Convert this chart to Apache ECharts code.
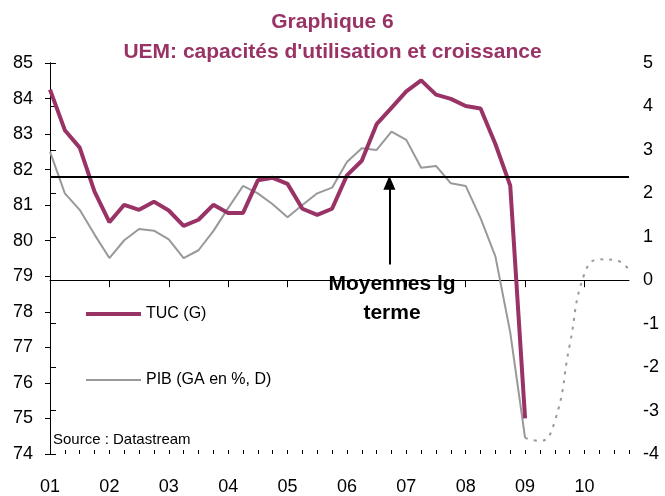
<!DOCTYPE html>
<html>
<head>
<meta charset="utf-8">
<script src="https://cdn.jsdelivr.net/npm/echarts@6/dist/echarts.min.js"></script>
<style>
  html, body { margin: 0; padding: 0; background: #fff; }
  #main { width: 665px; height: 496px; }
</style>
</head>
<body>
<div id="main"></div>
<script>
// quarterly data, index 0 = 2001 Q1
const yearLabels = ["01", "02", "03", "04", "05", "06", "07", "08", "09", "10"];

// TUC (G), left axis
const tuc = [
  84.25, 83.11, 82.62, 81.38, 80.52, 81.01, 80.87, 81.1,
  80.85, 80.42, 80.59, 81.01, 80.78, 80.78, 81.7, 81.77,
  81.6, 80.9, 80.73, 80.9, 81.84, 82.25, 83.28, 83.74,
  84.2, 84.51, 84.11, 83.99, 83.79, 83.72, 82.72, 81.55,
  75.0
];

// PIB (GA en %, D), right axis
const pib = [
  2.96, 2.0, 1.62, 1.05, 0.51, 0.92, 1.18, 1.14,
  0.94, 0.51, 0.69, 1.13, 1.66, 2.17, 2.0, 1.75,
  1.45, 1.73, 2.0, 2.13, 2.72, 3.04, 3.0, 3.42,
  3.23, 2.59, 2.63, 2.23, 2.17, 1.43, 0.55, -1.2,
  -3.63
];

// forecast (dotted), starts at the last PIB quarter
const forecastStart = 32;
const pibForecast = [-3.63, -3.7, -3.25, -1.5, 0.15, 0.48, 0.47, 0.24];

const longTermAvg = 81.8;
const arrowFrom = [22.86, 79.33];

const purple = "#993366";
const grey = "#999999";
const font = "Liberation Sans";

const chart = echarts.init(document.getElementById("main"));

const option = {
  backgroundColor: "#fff",
  animation: false,
  textStyle: { fontFamily: font },
  title: {
    text: "Graphique 6\nUEM: capacités d'utilisation et croissance",
    left: "center",
    top: 7,
    padding: 0,
    textStyle: {
      color: purple,
      fontSize: 21,
      fontWeight: "bold",
      fontFamily: font,
      lineHeight: 30,
    },
  },
  grid: { left: 50, right: 36, top: 63, bottom: 37 },
  legend: {
    orient: "vertical",
    left: 79,
    top: 301,
    itemWidth: 55,
    itemHeight: 14,
    itemGap: 50,
    itemStyle: { opacity: 0 },
    textStyle: { fontSize: 16, color: "#000", fontFamily: font },
    data: [
      { name: "TUC (G)", lineStyle: { width: 4 } },
      { name: "PIB (GA en %, D)", lineStyle: { width: 2 } },
    ],
  },
  xAxis: [
    {
      type: "value",
      min: 0,
      max: 39,
      interval: 4,
      position: "bottom",
      axisLine: { lineStyle: { color: "#000", width: 1 } },
      axisTick: { length: 7, lineStyle: { color: "#000" } },
      axisLabel: {
        fontSize: 18,
        color: "#000",
        margin: 24,
        showMaxLabel: false,
        formatter: (v) => yearLabels[v / 4] || "",
      },
      splitLine: { show: false },
    },
    {
      type: "value",
      min: 0,
      max: 39,
      interval: 4,
      position: "bottom",
      axisLine: { show: false },
      axisTick: { inside: true, length: 4, lineStyle: { color: "#000" } },
      minorTick: { show: true, splitNumber: 4, length: 4, lineStyle: { color: "#000" } },
      axisLabel: { show: false },
      splitLine: { show: false },
    },
  ],
  yAxis: [
    {
      type: "value",
      min: 74,
      max: 85,
      interval: 1,
      position: "left",
      axisLine: { show: true, lineStyle: { color: "#000", width: 1 } },
      axisTick: { show: true, length: 5, lineStyle: { color: "#000" } },
      axisLabel: { fontSize: 18, color: "#000", margin: 17 },
      splitLine: { show: false },
    },
    {
      type: "value",
      min: -4,
      max: 5,
      interval: 1,
      position: "right",
      axisLine: { show: true, lineStyle: { color: "#000", width: 1 } },
      axisTick: { show: true, length: 6, lineStyle: { color: "#000" } },
      axisLabel: { fontSize: 18, color: "#000", margin: 14 },
      splitLine: { show: false },
    },
  ],
  series: [
    {
      name: "PIB (GA en %, D)",
      type: "line",
      yAxisIndex: 1,
      symbol: "none",
      data: pib.map((v, i) => [i, v]),
      lineStyle: { color: grey, width: 2 },
      itemStyle: { color: grey },
      z: 2,
    },
    {
      type: "line",
      yAxisIndex: 1,
      symbol: "none",
      smooth: true,
      data: pibForecast.map((v, i) => [forecastStart + i, v]),
      lineStyle: { color: grey, width: 2, type: [3, 6] },
      z: 2,
    },
    {
      name: "TUC (G)",
      type: "line",
      yAxisIndex: 0,
      symbol: "none",
      data: tuc.map((v, i) => [i, v]),
      lineStyle: { color: purple, width: 4 },
      itemStyle: { color: purple },
      z: 3,
      markLine: {
        silent: true,
        symbol: ["none", "none"],
        label: { show: false },
        lineStyle: { color: "#000", width: 2, type: "solid" },
        data: [
          { yAxis: longTermAvg },
          [
            { coord: arrowFrom, symbol: "none" },
            { coord: [arrowFrom[0], longTermAvg - 0.17], symbol: "triangle", symbolSize: [12, 14] },
          ],
        ],
      },
    },
  ],
  graphic: [
    {
      type: "text",
      x: 392,
      y: 270,
      style: {
        text: "Moyennes lg\nterme",
        font: "bold 21px " + font,
        lineHeight: 29,
        align: "center",
        verticalAlign: "top",
        fill: "#000",
      },
    },
    {
      type: "text",
      x: 53,
      y: 432,
      style: {
        text: "Source : Datastream",
        font: "15px " + font,
        verticalAlign: "top",
        fill: "#000",
      },
    },
  ],
};

chart.setOption(option);
</script>
</body>
</html>
